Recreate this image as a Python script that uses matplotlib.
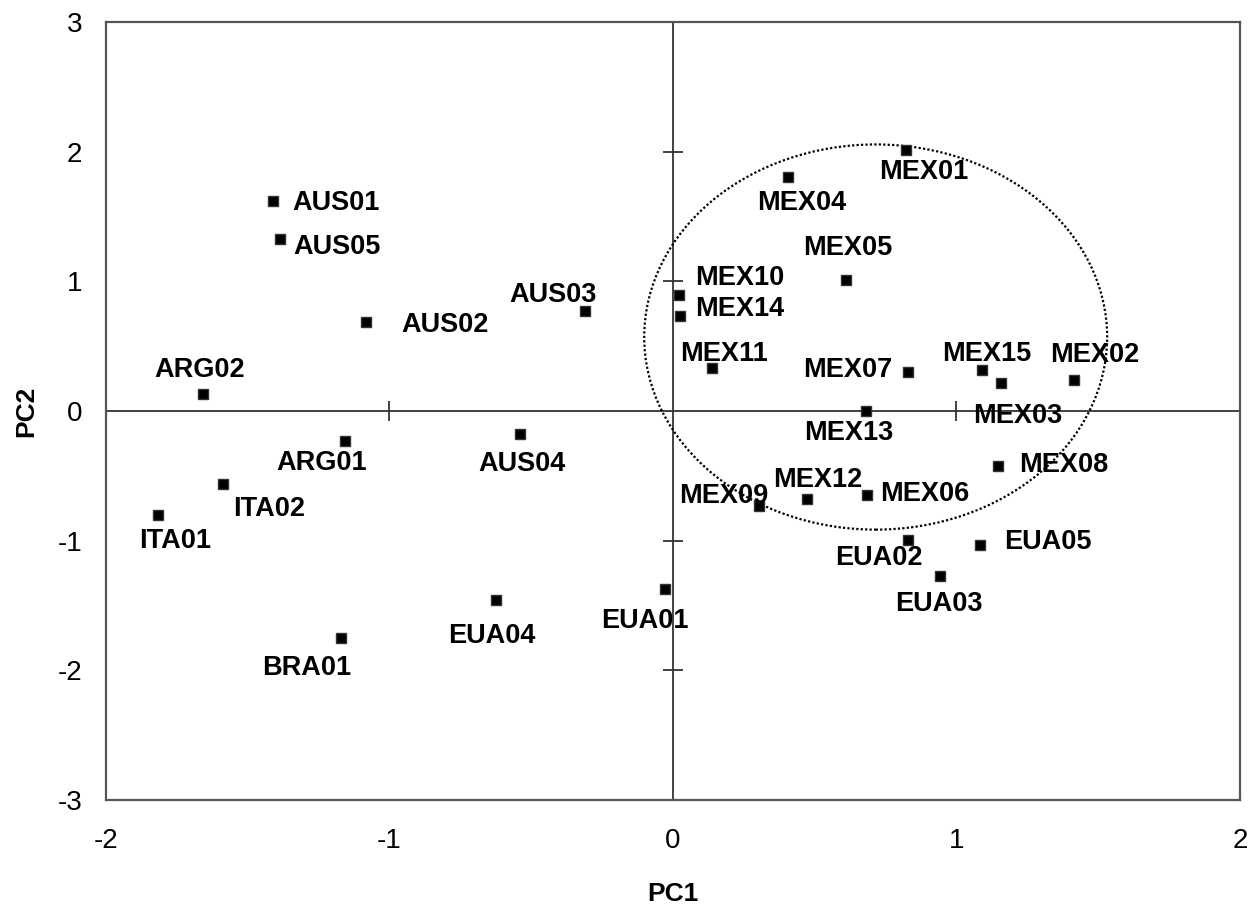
import matplotlib.pyplot as plt
from matplotlib.patches import Ellipse

plt.rcParams['font.family'] = ['Liberation Sans', 'DejaVu Sans']
plt.rcParams['axes.unicode_minus'] = False

# muestras y coordenadas de componentes principales
names = ["AUS01", "AUS05", "AUS02", "AUS03", "ARG02", "ARG01", "ITA02", "ITA01",
         "AUS04", "EUA04", "BRA01", "EUA01", "MEX01", "MEX04", "MEX05", "MEX10",
         "MEX14", "MEX11", "MEX07", "MEX15", "MEX03", "MEX02", "MEX13", "MEX08",
         "MEX12", "MEX06", "MEX09", "EUA02", "EUA05", "EUA03"]
pc1 = [-1.411, -1.386, -1.084, -0.310, -1.657, -1.158, -1.586, -1.815,
       -0.540, -0.625, -1.170, -0.028, 0.821, 0.407, 0.611, 0.021,
       0.025, 0.139, 0.828, 1.089, 1.157, 1.414, 0.682, 1.148,
       0.474, 0.683, 0.303, 0.828, 1.082, 0.941]
pc2 = [1.619, 1.326, 0.687, 0.772, 0.130, -0.233, -0.567, -0.806,
       -0.178, -1.461, -1.749, -1.375, 2.015, 1.802, 1.013, 0.891,
       0.733, 0.329, 0.304, 0.314, 0.214, 0.240, 0.002, -0.421,
       -0.682, -0.651, -0.729, -0.996, -1.035, -1.271]

# desplazamiento de cada etiqueta (pixeles)
offsets = [(63, -2), (57, -8), (79, -3), (-32, 16), (-4, 24), (-23, -22), (46, -25), (17, -26),
           (2, -30), (-4, -36), (-35, -30), (-20, -32), (18, -22), (13, -26), (2, 32), (61, 17),
           (60, 7), (12, 14), (-60, 2), (5, 16), (17, -33), (21, 25), (-18, -22), (65, 1),
           (10, 19), (58, 1), (-35, 10), (-29, -18), (68, 3), (-1, -28)]

xticks = [-2, -1, 0, 1, 2]
yticks = [-3, -2, -1, 0, 1, 2, 3]

fig = plt.figure(figsize=(12.53, 9.05), dpi=100)
ax = fig.add_axes([0.0846, 0.116, 0.905, 0.8598])

ax.set_xlim(-2, 2)
ax.set_ylim(-3, 3)
ax.set_xticks(xticks)
ax.set_yticks(yticks)
ax.tick_params(length=0, labelsize=20, colors='black')
ax.tick_params(axis='x', pad=20)
ax.tick_params(axis='y', pad=17)
for s in ax.spines.values():
    s.set_color('#555555')
    s.set_linewidth(1.6)

# ejes internos con marcas
ax.axhline(0, color='#333333', lw=1.3, zorder=1)
ax.axvline(0, color='#333333', lw=1.3, zorder=1)
inner_x = [t for t in xticks if t not in (-2, 0, 2)]
inner_y = [t for t in yticks if t not in (-3, 0, 3)]
ax.plot(inner_x, [0] * len(inner_x), ls='none', marker='|', ms=14, mew=1.3, color='#333333')
ax.plot([0] * len(inner_y), inner_y, ls='none', marker='_', ms=14, mew=1.3, color='#333333')

# elipse del grupo MEX
ax.add_patch(Ellipse((0.715, 0.57), 1.633, 2.97, fill=False, ls=(0, (1, 1)),
                     lw=1.6, color='black', zorder=2))

ax.plot(pc1, pc2, ls='none', marker='s', ms=7, color='black', mec='#333333', zorder=3)

for n, x, y, off in zip(names, pc1, pc2, offsets):
    ax.annotate(n, (x, y), xytext=off, textcoords='offset pixels',
                ha='center', va='center', fontsize=19.5, fontweight='bold', zorder=4)

ax.set_xlabel("PC1", fontsize=19, fontweight='bold', labelpad=20)
ax.set_ylabel("PC2", fontsize=19, fontweight='bold', labelpad=14)

fig.savefig("out.png", dpi=100)
